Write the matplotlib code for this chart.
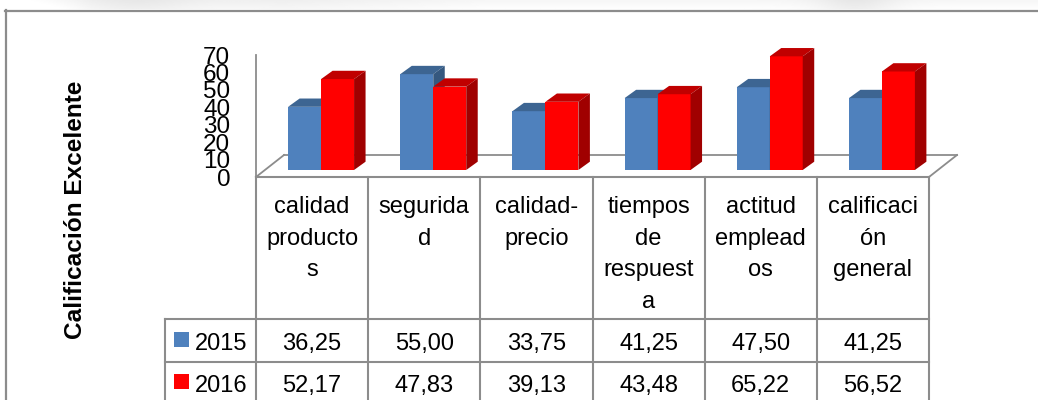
import numpy as np
import matplotlib
matplotlib.use("Agg")
import matplotlib.pyplot as plt
from matplotlib.patches import Rectangle, Polygon
from matplotlib.lines import Line2D
from matplotlib.transforms import ScaledTranslation

plt.rcParams['font.family'] = ['Liberation Sans', 'DejaVu Sans']

# ---------------- data ----------------
categories = ["calidad\nproducto\ns", "segurida\nd", "calidad-\nprecio",
              "tiempos\nde\nrespuest\na", "actitud\nemplead\nos",
              "calificaci\nón\ngeneral"]
series_names = ["2015", "2016"]
values_2015 = [36.25, 55.00, 33.75, 41.25, 47.50, 41.25]
values_2016 = [52.17, 47.83, 39.13, 43.48, 65.22, 56.52]
y_ticks = [0, 10, 20, 30, 40, 50, 60, 70]
y_label = "Calificación Excelente"

front_colors = ["#4F81BD", "#FF0000"]
top_colors = ["#3D6592", "#C00000"]
side_colors = ["#35587F", "#A00000"]
grid_gray = "#8C8C8C"

W, H = 1038, 400
fig = plt.figure(figsize=(W / 100, H / 100), dpi=100)


def fbox(x0, y0, x1, y1):
    """pixel box (top-left origin) -> figure fraction rect"""
    return [x0 / W, 1 - y1 / H, (x1 - x0) / W, (y1 - y0) / H]


# ---------------- top shadow + frame ----------------
sh = fig.add_axes(fbox(30, 0, W, 9))
sh.set_axis_off()
gx = np.linspace(0, 1, 400)[None, :]
gy = np.linspace(0, 1, 12)[:, None]
prof = (0.965
        - 0.05 * np.exp(-((gx - 0.10) / 0.06) ** 2)
        - 0.03 * np.clip(1 - np.abs(gx - 0.25) / 0.2, 0, 1)
        - 0.06 * np.exp(-((gx - 0.82) / 0.04) ** 2)
        + 0.035 * np.clip(1 - gx / 0.06, 0, 1))
shade = np.clip(prof + 0.03 * gy, 0, 1)
sh.imshow(shade, cmap="gray", vmin=0, vmax=1, aspect="auto",
          extent=[0, 1, 1, 0], interpolation="bilinear")

fig.add_artist(Line2D([5 / W, 1], [1 - 10.5 / H, 1 - 10.5 / H], color=grid_gray,
                      lw=1.6, transform=fig.transFigure))
fig.add_artist(Line2D([5.5 / W, 5.5 / W], [1 - 10 / H, 0], color=grid_gray,
                      lw=1.6, transform=fig.transFigure))

# ---------------- main (bar) axes ----------------
ax = fig.add_axes(fbox(256, 55, 929, 177))
n = len(categories)
ax.set_xlim(0, n)
ax.set_ylim(0, 70)
for s in ["top", "right", "bottom"]:
    ax.spines[s].set_visible(False)
ax.spines["left"].set_color(grid_gray)
ax.spines["left"].set_linewidth(1.3)
ax.set_xticks([])
ax.set_yticks(y_ticks)
ax.set_yticklabels([str(t) for t in y_ticks], fontsize=17.5)
ax.tick_params(axis="y", length=0, pad=18.5)
ax.patch.set_alpha(0)

# floor (perspective)
fdx, fdy = 28 / 673, 22 / 122
kw = dict(color=grid_gray, lw=1.3, transform=ax.transAxes, clip_on=False)
ax.plot([fdx, 1 + fdx], [fdy, fdy], **kw)
ax.plot([0, fdx], [0, fdy], **kw)
ax.plot([1, 1 + fdx], [0, fdy], **kw)

# bars with fake depth
fig.canvas.draw()
bb = ax.get_window_extent()
px_x = bb.width / n
px_y = bb.height / 70
ddx = 11.5 / px_x
ddy = 8.3 / px_y
shift = ax.transData + ScaledTranslation(9 / 100, 7 / 100, fig.dpi_scale_trans)

bar_w = 0.294
x = np.arange(n) + 0.5
for i in range(n):
    for k, vals in enumerate([values_2015, values_2016]):
        x0 = x[i] - bar_w + k * bar_w
        x1 = x0 + bar_w
        h = vals[i]
        ax.add_patch(Rectangle((x0, 0), bar_w, h, facecolor=front_colors[k],
                               edgecolor="none", transform=shift, clip_on=False,
                               zorder=3))
        ax.add_patch(Polygon([(x0, h), (x1, h), (x1 + ddx, h + ddy), (x0 + ddx, h + ddy)],
                             closed=True, facecolor=top_colors[k], edgecolor="none",
                             transform=shift, clip_on=False, zorder=3))
        ax.add_patch(Polygon([(x1, 0), (x1 + ddx, ddy), (x1 + ddx, h + ddy), (x1, h)],
                             closed=True, facecolor=side_colors[k], edgecolor="none",
                             transform=shift, clip_on=False, zorder=3))

# y label
fig.text(75 / W, 1 - 210 / H, y_label, rotation=90, fontsize=17.6,
         fontweight="bold", ha="center", va="center")

# ---------------- data table ----------------
leg_w = 91 / px_x
axt = fig.add_axes(fbox(165, 177, 929, 400))
axt.set_xlim(-leg_w, n)
axt.set_ylim(223, 0)
axt.set_axis_off()

row_h = [142, 185, 228]
lkw = dict(color=grid_gray, lw=1.5, clip_on=False)
axt.plot([0, n], [0, 0], **lkw)
axt.plot([-leg_w, n], [row_h[0], row_h[0]], **lkw)
axt.plot([-leg_w, n], [row_h[1], row_h[1]], **lkw)
axt.plot([-leg_w, -leg_w], [row_h[0], 240], **lkw)
for c in range(n + 1):
    axt.plot([c, c], [0, 240], **lkw)

for i, cat in enumerate(categories):
    axt.text(i + 0.5, 19, cat, ha="center", va="top", fontsize=17,
             linespacing=1.56)
    axt.text(i + 0.5, 173, f"{values_2015[i]:.2f}".replace(".", ","),
             ha="center", va="baseline", fontsize=17)
    axt.text(i + 0.5, 215, f"{values_2016[i]:.2f}".replace(".", ","),
             ha="center", va="baseline", fontsize=17)

sq_w = 15 / px_x
for k, (name, yb) in enumerate(zip(series_names, [173, 215])):
    axt.add_patch(Rectangle((-leg_w + 9 / px_x, yb - 18), sq_w, 15,
                            facecolor=front_colors[k], edgecolor="none",
                            clip_on=False))
    axt.text(-leg_w + 30 / px_x, yb, name, ha="left", va="baseline", fontsize=17)

fig.savefig("out.png", dpi=100)
